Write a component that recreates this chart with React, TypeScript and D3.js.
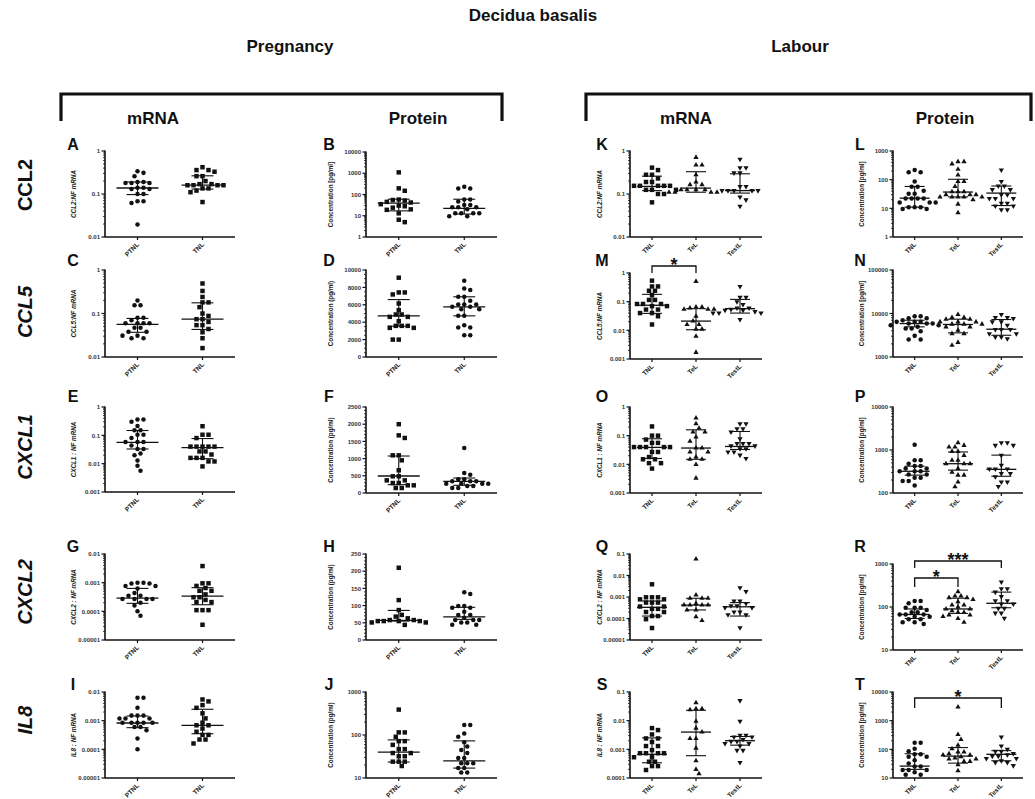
import React from "react";
import * as d3 from "d3";

// categories
const PREG = ["PTNL", "TNL"];
const LAB = ["TNL", "TeL", "TestL"];

// A: CCL2 mRNA, pregnancy
const aPTNL = [0.34, 0.31, 0.26, 0.19, 0.19, 0.18, 0.18, 0.18, 0.14, 0.14, 0.13, 0.13, 0.1, 0.1, 0.068, 0.068, 0.062, 0.0195];
const aTNL = [0.42, 0.36, 0.36, 0.33, 0.26, 0.26, 0.2, 0.17, 0.17, 0.16, 0.16, 0.16, 0.16, 0.135, 0.135, 0.12, 0.11, 0.065];
const aStats = [[0.097, 0.138, 0.19], [0.13, 0.16, 0.265]];
// B: CCL2 protein, pregnancy
const bPTNL = [1100, 195, 150, 58, 55, 52, 45, 42, 35, 30, 28, 24, 20, 19, 13, 6.5, 5];
const bTNL = [230, 190, 190, 58, 58, 47, 32, 32, 25, 25, 25, 20, 13, 13, 13, 13, 9.5, 9.5];
const bStats = [[17, 39, 60], [12, 22, 60]];
// C: CCL5 mRNA
const cPTNL = [0.2, 0.155, 0.155, 0.08, 0.08, 0.07, 0.06, 0.06, 0.06, 0.06, 0.047, 0.047, 0.038, 0.038, 0.031, 0.031, 0.027, 0.027];
const cTNL = [0.49, 0.33, 0.24, 0.18, 0.18, 0.14, 0.1, 0.088, 0.074, 0.074, 0.064, 0.054, 0.054, 0.044, 0.037, 0.027, 0.016];
const cStats = [[0.037, 0.056, 0.077], [0.043, 0.074, 0.176]];
// D: CCL5 protein
const dPTNL = [9115, 7420, 7420, 7190, 6150, 5385, 4885, 4885, 4615, 4615, 4115, 3580, 3580, 3580, 3350, 3350, 2000, 2000];
const dTNL = [8770, 7880, 7690, 6920, 6920, 6460, 6040, 6040, 6040, 5770, 5770, 5500, 5500, 4730, 4730, 3650, 3380, 3380, 2500, 2500];
const dStats = [[3540, 4730, 6600], [4730, 5770, 6920]];
// E: CXCL1 mRNA
const ePTNL = [0.36, 0.36, 0.3, 0.215, 0.15, 0.15, 0.105, 0.105, 0.08, 0.058, 0.058, 0.058, 0.044, 0.033, 0.033, 0.023, 0.02, 0.013, 0.0085, 0.0056];
const eTNL = [0.21, 0.105, 0.105, 0.08, 0.04, 0.04, 0.04, 0.04, 0.04, 0.027, 0.027, 0.021, 0.016, 0.016, 0.016, 0.012, 0.012, 0.008];
const eStats = [[0.033, 0.056, 0.148], [0.015, 0.037, 0.077]];
// F: CXCL1 protein
const fPTNL = [2000, 1676, 1600, 1095, 1095, 950, 660, 485, 485, 368, 368, 290, 290, 223, 223, 145, 145];
const fTNL = [1308, 581, 533, 397, 397, 340, 340, 340, 270, 270, 270, 270, 204, 204, 145, 145];
const fStats = [[242, 494, 1075], [223, 340, 436]];
// G: CXCL2 mRNA
const gPTNL = [0.001, 0.001, 0.00093, 0.00093, 0.00077, 0.00077, 0.00062, 0.00044, 0.00035, 0.00035, 0.00027, 0.00027, 0.00027, 0.00027, 0.0002, 0.00016, 0.0001, 0.00007];
const gTNL = [0.0038, 0.00095, 0.00095, 0.00077, 0.00065, 0.00052, 0.00052, 0.00039, 0.00031, 0.00031, 0.00025, 0.00021, 0.00021, 0.00011, 0.00011, 0.00011, 0.000034];
const gStats = [[0.00019, 0.00029, 0.00063], [0.00017, 0.00034, 0.00067]];
// H: CXCL2 protein
const hPTNL = [210, 116, 87, 73, 68, 63, 58, 58, 55, 55, 55, 55, 51, 51, 44];
const hTNL = [139, 134, 99, 99, 94, 94, 82, 73, 73, 65, 58, 58, 58, 51, 51, 44, 44];
const hStats = [[55, 57, 86], [60, 67, 95]];
// I: IL8 mRNA
const iPTNL = [0.0063, 0.0063, 0.0028, 0.0015, 0.0015, 0.0015, 0.0012, 0.0012, 0.0012, 0.00085, 0.00085, 0.00085, 0.00085, 0.00085, 0.0006, 0.0006, 0.00046, 0.00024, 0.0001];
const iTNL = [0.0055, 0.0047, 0.0035, 0.0028, 0.0018, 0.0012, 0.00085, 0.00069, 0.00069, 0.00053, 0.00041, 0.00032, 0.00032, 0.00022, 0.00022, 0.00016];
const iStats = [[0.00057, 0.00083, 0.00145], [0.00035, 0.00069, 0.0025]];
// J: IL8 protein
const jPTNL = [390, 115, 115, 91, 72, 72, 59, 47, 47, 38, 38, 32, 32, 24, 24, 24, 19];
const jTNL = [170, 170, 109, 91, 68, 54, 45, 38, 29, 29, 22, 22, 22, 17, 17, 13.5, 13.5];
const jStats = [[23.5, 40, 77], [17, 25, 73]];
// K: CCL2 mRNA, labour
const kTNL = [0.41, 0.36, 0.28, 0.28, 0.23, 0.19, 0.19, 0.155, 0.155, 0.155, 0.155, 0.155, 0.125, 0.125, 0.125, 0.1, 0.1, 0.064];
const kTeL = [0.71, 0.47, 0.47, 0.28, 0.19, 0.165, 0.165, 0.125, 0.125, 0.125, 0.125, 0.11, 0.11, 0.11, 0.11];
const kTestL = [0.64, 0.41, 0.41, 0.31, 0.31, 0.15, 0.15, 0.12, 0.12, 0.12, 0.12, 0.12, 0.085, 0.073, 0.052];
const kStats = [[0.12, 0.15, 0.26], [0.11, 0.137, 0.33], [0.105, 0.12, 0.295]];
// L: CCL2 protein, labour
const lTNL = [218, 182, 182, 86, 57, 57, 41, 32, 32, 22, 22, 22, 22, 16, 16, 16, 11, 11, 11, 9.5, 9.5];
const lTeL = [425, 425, 355, 230, 145, 86, 86, 58, 38, 38, 38, 30, 30, 30, 25, 25, 25, 25, 25, 20, 14, 7];
const lTestL = [218, 86, 60, 60, 45, 45, 30, 30, 22, 22, 22, 15, 15, 12, 12, 9, 9];
const lStats = [[11, 22.6, 58], [25, 37, 103], [12.5, 34, 60]];
// M: CCL5 mRNA, labour
const mTNL = [0.54, 0.34, 0.34, 0.24, 0.24, 0.17, 0.115, 0.115, 0.083, 0.083, 0.083, 0.07, 0.07, 0.053, 0.053, 0.04, 0.04, 0.031, 0.016];
const mTeL = [0.51, 0.065, 0.065, 0.06, 0.054, 0.054, 0.054, 0.031, 0.021, 0.016, 0.016, 0.011, 0.011, 0.0062, 0.0017];
const mTestL = [0.34, 0.142, 0.142, 0.1, 0.08, 0.06, 0.06, 0.054, 0.05, 0.05, 0.045, 0.04, 0.04, 0.04, 0.024];
const mStats = [[0.039, 0.075, 0.18], [0.0105, 0.021, 0.057], [0.04, 0.057, 0.12]];
// N: CCL5 protein, labour
const nTNL = [8680, 8680, 7770, 7770, 7000, 6420, 6420, 6420, 5880, 5880, 5880, 5380, 5380, 4930, 4500, 4500, 3900, 3060, 2510, 2510];
const nTeL = [9500, 8080, 8080, 7390, 7390, 6420, 6420, 6420, 5700, 5700, 5700, 4930, 4930, 4120, 3440, 3440, 2170, 1860];
const nTestL = [9500, 8080, 8080, 7650, 6420, 6420, 5380, 4270, 4270, 4270, 3440, 3440, 2870, 2870, 2640];
const nStats = [[4930, 5880, 7000], [3590, 5590, 7390], [3160, 4350, 7270]];
// O: CXCL1 mRNA, labour
const oTNL = [0.21, 0.1, 0.1, 0.073, 0.056, 0.056, 0.04, 0.04, 0.04, 0.04, 0.04, 0.027, 0.027, 0.018, 0.015, 0.015, 0.011, 0.011, 0.0071];
const oTeL = [0.41, 0.26, 0.18, 0.134, 0.134, 0.09, 0.064, 0.037, 0.037, 0.027, 0.027, 0.018, 0.015, 0.015, 0.0098, 0.0033];
const oTestL = [0.26, 0.26, 0.175, 0.175, 0.134, 0.078, 0.053, 0.053, 0.053, 0.044, 0.044, 0.035, 0.035, 0.027, 0.027, 0.021, 0.016];
const oStats = [[0.016, 0.039, 0.078], [0.015, 0.037, 0.16], [0.033, 0.042, 0.14]];
// P: CXCL1 protein, labour
const pTNL = [1330, 575, 575, 480, 425, 425, 370, 370, 320, 320, 320, 270, 270, 225, 225, 190, 190, 150];
const pTeL = [1480, 1280, 1170, 1170, 930, 930, 750, 575, 575, 480, 480, 480, 370, 305, 260, 260, 180, 140];
const pTestL = [1480, 1480, 1280, 1280, 750, 440, 360, 360, 360, 285, 285, 240, 180, 180, 142];
const pStats = [[260, 320, 420], [340, 480, 900], [245, 355, 760]];
// Q: CXCL2 mRNA, labour
const qTNL = [0.0039, 0.00097, 0.00097, 0.00097, 0.00078, 0.00078, 0.00055, 0.00055, 0.00055, 0.00036, 0.00036, 0.00028, 0.00028, 0.0002, 0.0002, 0.00013, 0.00013, 0.000093, 0.000036];
const qTeL = [0.059, 0.00124, 0.00087, 0.00087, 0.00087, 0.0005, 0.00042, 0.00042, 0.00042, 0.00042, 0.00025, 0.00025, 0.00012, 0.00008];
const qTestL = [0.0027, 0.0018, 0.00065, 0.00065, 0.0005, 0.00039, 0.00039, 0.00032, 0.00032, 0.0002, 0.0002, 0.00015, 0.00015, 0.000037];
const qStats = [[0.00013, 0.00033, 0.00065], [0.00025, 0.00042, 0.00087], [0.00013, 0.00035, 0.00055]];
// R: CXCL2 protein, labour
const rTNL = [138, 138, 122, 96, 96, 96, 85, 75, 75, 67, 67, 67, 59, 59, 52, 52, 44, 44, 40];
const rTeL = [228, 180, 180, 165, 165, 150, 133, 111, 111, 100, 90, 90, 82, 75, 75, 65, 65, 60, 54, 44];
const rTestL = [380, 265, 265, 222, 175, 140, 140, 118, 118, 93, 93, 72, 72, 55];
const rStats = [[54, 67, 90], [71, 90, 160], [96, 122, 222]];
// S: IL8 mRNA, labour
const sTNL = [0.0055, 0.0047, 0.0033, 0.0024, 0.0024, 0.0018, 0.0013, 0.0013, 0.00094, 0.00073, 0.00073, 0.00073, 0.00073, 0.00053, 0.00053, 0.00037, 0.00037, 0.00026, 0.00026, 0.00019];
const sTeL = [0.042, 0.026, 0.026, 0.024, 0.0095, 0.0055, 0.004, 0.0024, 0.0024, 0.0011, 0.0004, 0.0002, 0.00014];
const sTestL = [0.05, 0.0095, 0.0031, 0.0031, 0.0027, 0.0027, 0.0022, 0.0019, 0.0019, 0.0016, 0.0016, 0.0013, 0.00092, 0.00092, 0.00035];
const sStats = [[0.00034, 0.00067, 0.0025], [0.0006, 0.004, 0.023], [0.0014, 0.002, 0.0028]];
// T: IL8 protein, labour
const tTNL = [171, 171, 105, 85, 67, 67, 55, 55, 42, 32, 25, 25, 19, 19, 19, 16, 13, 13];
const tTeL = [3000, 330, 220, 138, 105, 81, 81, 70, 63, 63, 55, 50, 46, 46, 38, 38, 29, 18];
const tTestL = [270, 130, 100, 85, 85, 72, 65, 58, 58, 48, 48, 40, 35, 35, 27];
const tStats = [[20, 26, 70], [33, 58, 115], [40, 67, 90]];

const GENES = ["CCL2", "CCL5", "CXCL1", "CXCL2", "IL8"];
const MRNA_TITLES = ["CCL2:NF mRNA", "CCL5:NF mRNA", "CXCL1 : NF mRNA", "CXCL2 : NF mRNA", "IL8 : NF mRNA"];

const FONT = "'Liberation Sans', Arial, Helvetica, sans-serif";
const COLS = [
  { x0: 105, x1: 235, title: 29, letter: 32 },
  { x0: 366, x1: 497, title: 33, letter: 37 },
  { x0: 630, x1: 762, title: 28, letter: 28 },
  { x0: 893, x1: 1023, title: 29, letter: 33 },
];
const LETTER_Y = [150, 266, 402, 552, 690];
const GENE_Y = [185, 312, 447, 592, 720];

type Shape = "circle" | "square" | "up" | "down";
type Bracket = { from: number; to: number; y: number; leg: number; label: string };
type Panel = {
  letter: string; col: number; row: number; top: number; bottom: number;
  log: boolean; domain: [number, number]; major?: number; minor?: number;
  title: string; italic: boolean; cats: string[]; groups: number[][]; stats: number[][];
  shapes: Shape[]; brackets?: Bracket[];
};

const MR: Shape[] = ["circle", "square"];
const PR: Shape[] = ["square", "circle"];
const LM: Shape[] = ["square", "up", "down"];
const LP: Shape[] = ["circle", "up", "down"];
const CONC = "Concentration [pg/ml]";
const CONC2 = "Concentration  (pg/ml)";

const panels: Panel[] = [
  { letter: "A", col: 0, row: 0, top: 151, bottom: 237, log: true, domain: [0.01, 1], title: MRNA_TITLES[0], italic: true, cats: PREG, groups: [aPTNL, aTNL], stats: aStats, shapes: MR },
  { letter: "B", col: 1, row: 0, top: 152, bottom: 237, log: true, domain: [1, 10000], title: CONC, italic: false, cats: PREG, groups: [bPTNL, bTNL], stats: bStats, shapes: PR },
  { letter: "K", col: 2, row: 0, top: 151, bottom: 237, log: true, domain: [0.01, 1], title: MRNA_TITLES[0], italic: true, cats: LAB, groups: [kTNL, kTeL, kTestL], stats: kStats, shapes: LM },
  { letter: "L", col: 3, row: 0, top: 151, bottom: 237, log: true, domain: [1, 1000], title: CONC, italic: false, cats: LAB, groups: [lTNL, lTeL, lTestL], stats: lStats, shapes: LP },

  { letter: "C", col: 0, row: 1, top: 270, bottom: 357, log: true, domain: [0.01, 1], title: MRNA_TITLES[1], italic: true, cats: PREG, groups: [cPTNL, cTNL], stats: cStats, shapes: MR },
  { letter: "D", col: 1, row: 1, top: 270, bottom: 357, log: false, domain: [0, 10000], major: 2000, minor: 500, title: CONC2, italic: false, cats: PREG, groups: [dPTNL, dTNL], stats: dStats, shapes: PR },
  { letter: "M", col: 2, row: 1, top: 273, bottom: 359, log: true, domain: [0.001, 1], title: MRNA_TITLES[1], italic: true, cats: LAB, groups: [mTNL, mTeL, mTestL], stats: mStats, shapes: LM,
    brackets: [{ from: 0, to: 1, y: 266, leg: 273, label: "*" }] },
  { letter: "N", col: 3, row: 1, top: 270, bottom: 357, log: true, domain: [1000, 100000], title: CONC, italic: false, cats: LAB, groups: [nTNL, nTeL, nTestL], stats: nStats, shapes: LP },

  { letter: "E", col: 0, row: 2, top: 407, bottom: 492, log: true, domain: [0.001, 1], title: MRNA_TITLES[2], italic: true, cats: PREG, groups: [ePTNL, eTNL], stats: eStats, shapes: MR },
  { letter: "F", col: 1, row: 2, top: 407, bottom: 493, log: false, domain: [0, 2500], major: 500, minor: 100, title: CONC2, italic: false, cats: PREG, groups: [fPTNL, fTNL], stats: fStats, shapes: PR },
  { letter: "O", col: 2, row: 2, top: 407, bottom: 493, log: true, domain: [0.001, 1], title: MRNA_TITLES[2], italic: true, cats: LAB, groups: [oTNL, oTeL, oTestL], stats: oStats, shapes: LM },
  { letter: "P", col: 3, row: 2, top: 407, bottom: 493, log: true, domain: [100, 10000], title: CONC, italic: false, cats: LAB, groups: [pTNL, pTeL, pTestL], stats: pStats, shapes: LP },

  { letter: "G", col: 0, row: 3, top: 554, bottom: 640, log: true, domain: [0.00001, 0.01], title: MRNA_TITLES[3], italic: true, cats: PREG, groups: [gPTNL, gTNL], stats: gStats, shapes: MR },
  { letter: "H", col: 1, row: 3, top: 554, bottom: 640, log: false, domain: [0, 250], major: 50, minor: 10, title: CONC2, italic: false, cats: PREG, groups: [hPTNL, hTNL], stats: hStats, shapes: PR },
  { letter: "Q", col: 2, row: 3, top: 554, bottom: 640, log: true, domain: [0.00001, 0.1], title: MRNA_TITLES[3], italic: true, cats: LAB, groups: [qTNL, qTeL, qTestL], stats: qStats, shapes: LM },
  { letter: "R", col: 3, row: 3, top: 564, bottom: 650, log: true, domain: [10, 1000], title: CONC, italic: false, cats: LAB, groups: [rTNL, rTeL, rTestL], stats: rStats, shapes: LP,
    brackets: [{ from: 0, to: 2, y: 561, leg: 568, label: "***" }, { from: 0, to: 1, y: 578, leg: 587, label: "*" }] },

  { letter: "I", col: 0, row: 4, top: 692, bottom: 778, log: true, domain: [0.00001, 0.01], title: MRNA_TITLES[4], italic: true, cats: PREG, groups: [iPTNL, iTNL], stats: iStats, shapes: MR },
  { letter: "J", col: 1, row: 4, top: 692, bottom: 778, log: true, domain: [10, 1000], title: CONC2, italic: false, cats: PREG, groups: [jPTNL, jTNL], stats: jStats, shapes: PR },
  { letter: "S", col: 2, row: 4, top: 692, bottom: 778, log: true, domain: [0.0001, 0.1], title: MRNA_TITLES[4], italic: true, cats: LAB, groups: [sTNL, sTeL, sTestL], stats: sStats, shapes: LM },
  { letter: "T", col: 3, row: 4, top: 692, bottom: 778, log: true, domain: [10, 10000], title: CONC, italic: false, cats: LAB, groups: [tTNL, tTeL, tTestL], stats: tStats, shapes: LP,
    brackets: [{ from: 0, to: 2, y: 698, leg: 708, label: "*" }] },
];

const INK = "#111";

function fmt(v: number) {
  if (v === 0) return "0";
  if (v >= 1) return String(v);
  return v.toFixed(Math.round(-Math.log10(v)));
}

// simple beeswarm: spread points sideways so markers don't overlap much
function swarm(ys: number[], step: number, gap: number): number[] {
  const order = ys.map((_, i) => i).sort((a, b) => ys[a] - ys[b]);
  const placed: { x: number; y: number }[] = [];
  const out = new Array(ys.length).fill(0);
  let flip = 1;
  order.forEach((i) => {
    const y = ys[i];
    for (let k = 0; k < 60; k++) {
      const off = k === 0 ? 0 : Math.ceil(k / 2) * (step / 2) * (k % 2 ? flip : -flip);
      const hit = placed.some((p) => Math.hypot(p.x - off, p.y - y) < gap);
      if (!hit) {
        placed.push({ x: off, y });
        out[i] = off;
        if (off !== 0) flip = -flip;
        break;
      }
    }
  });
  return out;
}

const symbolPath = (shape: Shape) => {
  if (shape === "circle") return d3.symbol().type(d3.symbolCircle).size(16)()!;
  if (shape === "square") return d3.symbol().type(d3.symbolSquare).size(20)()!;
  return d3.symbol().type(d3.symbolTriangle).size(12)()!;
};

function PanelView({ p }: { p: Panel }) {
  const c = COLS[p.col];
  const y = p.log
    ? d3.scaleLog().domain(p.domain).range([p.bottom, p.top])
    : d3.scaleLinear().domain(p.domain).range([p.bottom, p.top]);
  const x = d3.scalePoint<string>().domain(p.cats).range([c.x0, c.x1]).padding(0.5);
  const three = p.cats.length === 3;
  const medHalf = three ? 15 : 21;
  const capHalf = three ? 10 : 11;

  const majors: number[] = [];
  const minors: number[] = [];
  if (p.log) {
    const lo = Math.round(Math.log10(p.domain[0]));
    const hi = Math.round(Math.log10(p.domain[1]));
    for (let e = lo; e <= hi; e++) {
      majors.push(Math.pow(10, e));
      if (e < hi) for (let m = 2; m <= 9; m++) minors.push(m * Math.pow(10, e));
    }
  } else {
    for (let v = p.domain[0]; v <= p.domain[1] + 1e-9; v += p.major!) majors.push(v);
    for (let v = p.domain[0]; v <= p.domain[1] + 1e-9; v += p.minor!) if (v % p.major! !== 0) minors.push(v);
  }
  const midY = (p.top + p.bottom) / 2;

  return (
    <g>
      <text x={c.x0 - c.letter} y={LETTER_Y[p.row]} fontSize={16} fontWeight="bold" textAnchor="middle" fill={INK}>{p.letter}</text>
      <text transform={`translate(${c.x0 - c.title},${midY}) rotate(-90)`} textAnchor="middle" fontSize={6.3}
        fontWeight="bold" fontStyle={p.italic ? "italic" : "normal"} fill="#222">{p.title}</text>
      {/* axes */}
      <line x1={c.x0} x2={c.x0} y1={p.top - 0.5} y2={p.bottom} stroke={INK} strokeWidth={1.6} />
      <line x1={c.x0} x2={c.x1} y1={p.bottom} y2={p.bottom} stroke={INK} strokeWidth={1.6} />
      {majors.map((v) => (
        <g key={"M" + v}>
          <line x1={c.x0 - 3.5} x2={c.x0} y1={y(v)} y2={y(v)} stroke={INK} strokeWidth={1.2} />
          <text x={c.x0 - 5} y={y(v) + 2.2} fontSize={6} fontWeight="bold" textAnchor="end" fill="#333">{fmt(v)}</text>
        </g>
      ))}
      {minors.map((v) => (
        <line key={"m" + v} x1={c.x0 - 2} x2={c.x0} y1={y(v)} y2={y(v)} stroke={INK} strokeWidth={0.8} />
      ))}
      {p.cats.map((cat) => (
        <g key={cat}>
          <line x1={x(cat)} x2={x(cat)} y1={p.bottom} y2={p.bottom + 3} stroke={INK} strokeWidth={1.2} />
          <text transform={`translate(${x(cat)! + 2},${p.bottom + 8}) rotate(-45)`} textAnchor="end" fontSize={6.5}
            fontWeight="bold" fill="#222">{cat}</text>
        </g>
      ))}
      {/* points */}
      {p.groups.map((vals, gi) => {
        const cx = x(p.cats[gi])!;
        const ys = vals.map((v) => y(v));
        const offs = swarm(ys, 6, 5.2);
        const d = symbolPath(p.shapes[gi]);
        const rot = p.shapes[gi] === "down" ? " rotate(180)" : "";
        return (
          <g key={gi}>
            {vals.map((v, i) => (
              <path key={i} d={d} transform={`translate(${cx + offs[i]},${ys[i]})${rot}`} fill={INK} />
            ))}
          </g>
        );
      })}
      {/* median and interquartile range */}
      {p.stats.map(([q1, med, q3], gi) => {
        const cx = x(p.cats[gi])!;
        return (
          <g key={"s" + gi} stroke={INK} strokeWidth={1.1}>
            <line x1={cx} x2={cx} y1={y(q1)} y2={y(q3)} />
            <line x1={cx - capHalf} x2={cx + capHalf} y1={y(q1)} y2={y(q1)} />
            <line x1={cx - capHalf} x2={cx + capHalf} y1={y(q3)} y2={y(q3)} />
            <line x1={cx - medHalf} x2={cx + medHalf} y1={y(med)} y2={y(med)} strokeWidth={1.3} />
          </g>
        );
      })}
      {(p.brackets || []).map((b, bi) => {
        const xa = x(p.cats[b.from])!;
        const xb = x(p.cats[b.to])!;
        return (
          <g key={"b" + bi}>
            <path d={`M${xa},${b.leg}V${b.y}H${xb}V${b.leg}`} fill="none" stroke={INK} strokeWidth={1.3} />
            <text x={(xa + xb) / 2} y={b.y + 5} fontSize={18} fontWeight="bold" textAnchor="middle" fill={INK}>{b.label}</text>
          </g>
        );
      })}
    </g>
  );
}

export default function App() {
  return (
    <svg width={1035} height={799} style={{ display: "block", position: "absolute", left: 0, top: 0, background: "#fff" }}
      fontFamily={FONT}>
      <rect width={1035} height={799} fill="#fff" />
      <text x={533} y={21} fontSize={17} fontWeight="bold" textAnchor="middle" fill={INK}>Decidua basalis</text>
      <text x={290} y={52} fontSize={17} fontWeight="bold" textAnchor="middle" fill={INK}>Pregnancy</text>
      <text x={800} y={52} fontSize={17} fontWeight="bold" textAnchor="middle" fill={INK}>Labour</text>
      <path d="M61,121V94H502V121" fill="none" stroke={INK} strokeWidth={3.2} />
      <path d="M586,121V94H1031V121" fill="none" stroke={INK} strokeWidth={3.2} />
      <text x={153} y={124} fontSize={17} fontWeight="bold" textAnchor="middle" fill={INK}>mRNA</text>
      <text x={418} y={124} fontSize={17} fontWeight="bold" textAnchor="middle" fill={INK}>Protein</text>
      <text x={686} y={124} fontSize={17} fontWeight="bold" textAnchor="middle" fill={INK}>mRNA</text>
      <text x={945} y={124} fontSize={17} fontWeight="bold" textAnchor="middle" fill={INK}>Protein</text>
      {GENES.map((g, i) => (
        <text key={g} transform={`translate(32,${GENE_Y[i]}) rotate(-90)`} fontSize={20} fontWeight="bold"
          fontStyle={i === 0 ? "normal" : "italic"} textAnchor="middle" fill={INK}>{g}</text>
      ))}
      {panels.map((p) => <PanelView key={p.letter} p={p} />)}
    </svg>
  );
}
